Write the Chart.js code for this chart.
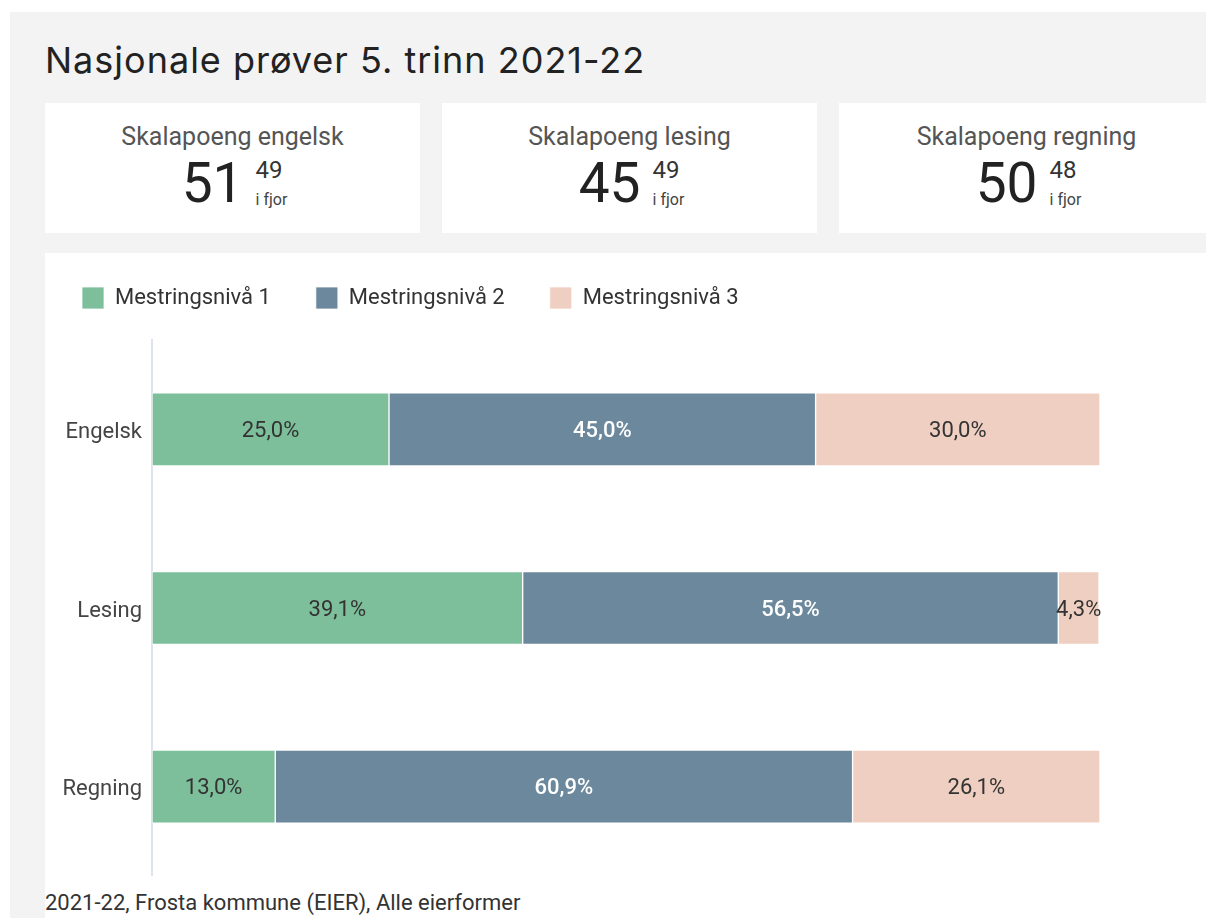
<!DOCTYPE html>
<html>
<head>
<meta charset="utf-8">
<script src="https://cdn.jsdelivr.net/npm/chart.js@4.4.0/dist/chart.umd.min.js"></script>
<style>
  html, body { margin: 0; padding: 0; background: #fff; width: 1206px; height: 918px; overflow: hidden; font-family: Roboto, sans-serif; }
  #panel { position: absolute; left: 10px; top: 12px; width: 1300px; height: 1000px; background: #f3f3f3; }
  h1 { position: absolute; left: 45px; top: 42px; margin: 0; font: 400 36px/36px Inter, sans-serif; letter-spacing: 1px; color: #222; white-space: nowrap; }
  .card { position: absolute; top: 103px; width: 375px; height: 130px; background: #fff; }
  .card .lbl { position: absolute; left: 0; right: 0; top: 20px; text-align: center; font-size: 25px; line-height: 28px; color: #555; }
  .card .val { position: absolute; left: 4px; right: 0; top: 48px; display: flex; justify-content: center; align-items: flex-start; }
  .big { font-size: 55px; line-height: 64px; color: #222; }
  .prev { margin-left: 12px; text-align: left; }
  .prev .p { font-size: 24px; line-height: 24px; margin-top: 7px; color: #333; }
  .prev .f { font-size: 16px; line-height: 18px; margin-top: 9px; color: #444; }
  #chartcard { position: absolute; left: 45px; top: 253px; width: 1200px; height: 700px; background: #fff; }
  #c { position: absolute; left: 0; top: 240px; }
  #foot { position: absolute; left: 45px; top: 891px; font-size: 22px; line-height: 24px; color: #333; white-space: nowrap; }
</style>
</head>
<body>
<div id="panel"></div>
<h1>Nasjonale prøver 5. trinn 2021-22</h1>
<div id="cards"></div>
<div id="chartcard"></div>
<canvas id="c" width="1206" height="636"></canvas>
<div id="foot">2021-22, Frosta kommune (EIER), Alle eierformer</div>
<script>
const categories = ['Engelsk', 'Lesing', 'Regning'];
const levelNames = ['Mestringsnivå 1', 'Mestringsnivå 2', 'Mestringsnivå 3'];
const niva1 = [25.0, 39.1, 13.0];
const niva2 = [45.0, 56.5, 60.9];
const niva3 = [30.0, 4.3, 26.1];
const levelColors = ['#7dbf9b', '#6b889c', '#efcfc1'];

const kpiTitles = ['Skalapoeng engelsk', 'Skalapoeng lesing', 'Skalapoeng regning'];
const kpiNow = [51, 45, 50];
const kpiLastYear = [49, 49, 48];

// kpi cards
const cardsEl = document.getElementById('cards');
kpiTitles.forEach((t, i) => {
  const d = document.createElement('div');
  d.className = 'card';
  d.style.left = (45 + i * 397) + 'px';
  d.innerHTML = '<div class="lbl">' + t + '</div>' +
    '<div class="val"><span class="big">' + kpiNow[i] + '</span>' +
    '<div class="prev"><div class="p">' + kpiLastYear[i] + '</div><div class="f">i fjor</div></div></div>';
  cardsEl.appendChild(d);
});

const fmt = v => v.toFixed(1).replace('.', ',') + '%';

const barLabels = {
  id: 'barLabels',
  afterDatasetsDraw(chart) {
    const ctx = chart.ctx;
    ctx.save();
    ctx.textAlign = 'center';
    ctx.textBaseline = 'middle';
    chart.data.datasets.forEach((ds, di) => {
      const meta = chart.getDatasetMeta(di);
      ctx.fillStyle = di === 1 ? '#ffffff' : '#333333';
      ctx.font = (di === 1 ? '500 ' : '400 ') + '22px Roboto';
      meta.data.forEach((bar, i) => {
        ctx.fillText(fmt(ds.data[i]), (bar.x + bar.base) / 2, bar.y + 2);
      });
    });
    ctx.restore();
  }
};

new Chart(document.getElementById('c').getContext('2d'), {
  type: 'bar',
  data: {
    labels: categories,
    datasets: [niva1, niva2, niva3].map((d, i) => ({
      label: levelNames[i],
      data: d,
      backgroundColor: levelColors[i],
      borderColor: 'rgba(255,255,255,0.75)',
      borderWidth: 1,
      borderSkipped: false,
      barThickness: 73
    }))
  },
  options: {
    indexAxis: 'y',
    responsive: false,
    animation: false,
    layout: { padding: { left: 37, top: 2, right: 106, bottom: 0 } },
    plugins: {
      tooltip: { enabled: false },
      legend: {
        position: 'top',
        align: 'start',
        labels: {
          boxWidth: 22,
          boxHeight: 22,
          padding: 45,
          color: '#333',
          font: { family: 'Roboto', size: 22 }
        }
      }
    },
    scales: {
      x: {
        stacked: true,
        min: 0,
        max: 100,
        position: 'top',
        ticks: { display: false },
        grid: { display: false, drawTicks: false },
        border: { display: false },
        afterFit: s => { s.height = 21; }
      },
      y: {
        stacked: true,
        grid: { display: false, drawTicks: false },
        border: { display: true, color: '#dde4ee', width: 2 },
        ticks: { color: '#444', padding: 10, labelOffset: 3, font: { family: 'Roboto', size: 22 } },
        afterFit: s => { s.width = 115; s.paddingTop = 0; s.paddingBottom = 0; }
      }
    }
  },
  plugins: [barLabels]
});
</script>
</body>
</html>
